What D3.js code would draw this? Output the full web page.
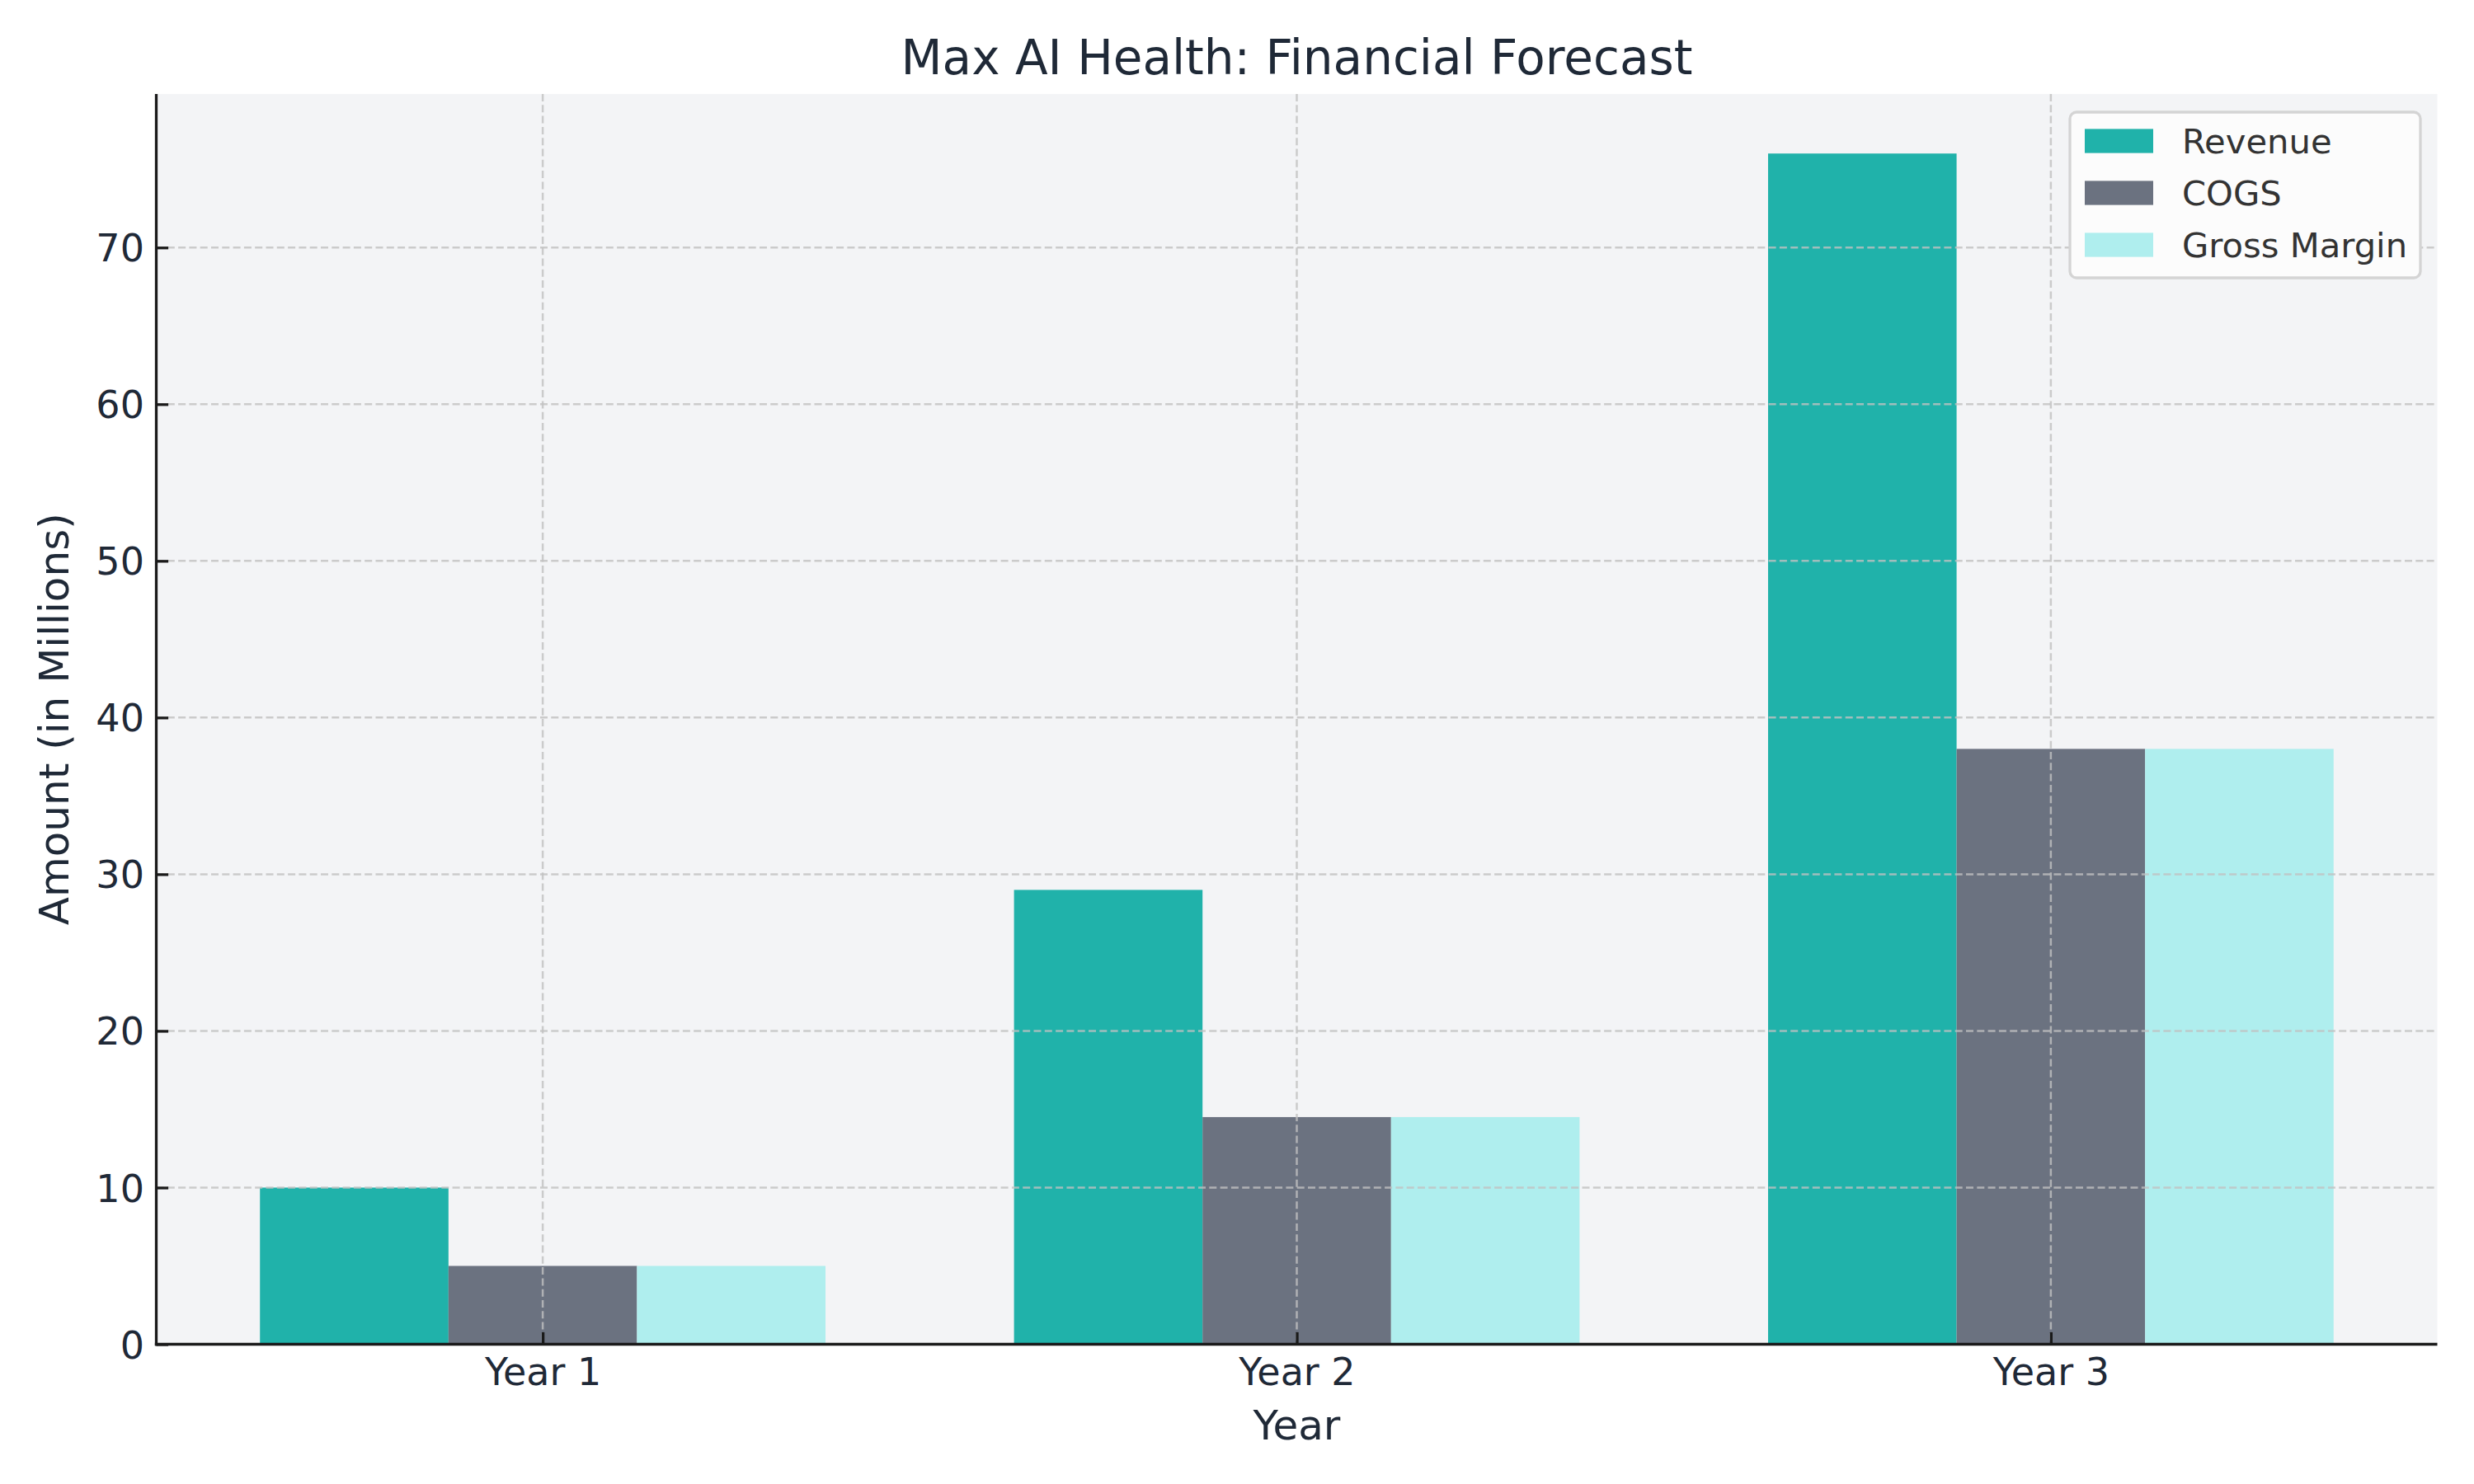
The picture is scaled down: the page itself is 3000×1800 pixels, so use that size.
<!DOCTYPE html>
<html>
<head>
<meta charset="utf-8">
<script src="https://cdn.jsdelivr.net/npm/d3@7"></script>
<style>
  html, body { margin: 0; padding: 0; background: #ffffff; }
  svg { display: block; }
  text { font-family: "DejaVu Sans", sans-serif; }
</style>
</head>
<body>
<svg id="chart" width="3000" height="1800"></svg>
<script>
// ---- data ----
const categories = ["Year 1", "Year 2", "Year 3"];
const seriesNames = ["Revenue", "COGS", "Gross Margin"];
const revenue = [10, 29, 76];
const cogs = [5, 14.5, 38];
const grossMargin = [5, 14.5, 38];
const yTicks = [0, 10, 20, 30, 40, 50, 60, 70];
const titleText = "Max AI Health: Financial Forecast";
const xLabel = "Year";
const yLabel = "Amount (in Millions)";

const seriesValues = [revenue, cogs, grossMargin];
const colors = ["#20B2AA", "#6B7280", "#AFEEEE"];

// ---- layout ----
const W = 3000, H = 1800;
const plot = { left: 189.5, right: 2955.5, top: 114, bottom: 1630.5 };
const textColor = "#1F2937";
const tickFont = 46, labelFont = 50, titleFont = 58, legendFont = 41.7;

const svg = d3.select("#chart");

const x = d3.scaleLinear()
  .domain([-0.375 - 0.05 * 2.75, 2.375 + 0.05 * 2.75])
  .range([plot.left, plot.right]);
const sub = d3.scaleBand().domain(seriesNames).range([-0.375, 0.375]);
const yMax = d3.max(seriesValues.flat()) * 1.05;
const y = d3.scaleLinear().domain([0, yMax]).range([plot.bottom, plot.top]);

// background
svg.append("rect")
  .attr("x", plot.left).attr("y", plot.top)
  .attr("width", plot.right - plot.left).attr("height", plot.bottom - plot.top)
  .attr("fill", "#F3F4F6");

// bars
seriesNames.forEach((name, si) => {
  svg.append("g").selectAll("rect")
    .data(seriesValues[si])
    .join("rect")
    .attr("x", (d, i) => x(i + sub(name)))
    .attr("width", (d, i) => x(i + sub(name) + sub.bandwidth()) - x(i + sub(name)))
    .attr("y", d => y(d))
    .attr("height", d => y(0) - y(d))
    .attr("fill", colors[si]);
});

// grid (drawn over bars)
const grid = svg.append("g")
  .attr("stroke", "#c0c0c0").attr("stroke-opacity", 0.8)
  .attr("stroke-width", 2.5).attr("stroke-dasharray", "9,4.3");
grid.selectAll("line.h").data(yTicks.filter(t => t > 0)).join("line")
  .attr("class", "h")
  .attr("x1", plot.left).attr("x2", plot.right)
  .attr("y1", d => y(d)).attr("y2", d => y(d));
grid.selectAll("line.v").data(categories).join("line")
  .attr("class", "v")
  .attr("x1", (d, i) => x(i)).attr("x2", (d, i) => x(i))
  .attr("y1", plot.top).attr("y2", plot.bottom);

// y axis
const yAxis = d3.axisLeft(y).tickValues(yTicks).tickSizeInner(-14.6).tickSizeOuter(0).tickPadding(14.6);
const yG = svg.append("g").attr("transform", `translate(${plot.left},0)`).call(yAxis);
yG.select(".domain").remove();
yG.selectAll(".tick line").attr("stroke", "#1a1a1a").attr("stroke-width", 3.3);
yG.selectAll(".tick text")
  .attr("fill", textColor).attr("font-size", tickFont)
  .attr("font-family", "DejaVu Sans").attr("dy", "0.36em");

// x axis
const xAxis = d3.axisBottom(x).tickValues(d3.range(categories.length))
  .tickFormat(i => categories[i]).tickSizeInner(-14.6).tickSizeOuter(0).tickPadding(14.6);
const xG = svg.append("g").attr("transform", `translate(0,${plot.bottom})`).call(xAxis);
xG.select(".domain").remove();
xG.selectAll(".tick line").attr("stroke", "#1a1a1a").attr("stroke-width", 3.3);
xG.selectAll(".tick text")
  .attr("fill", textColor).attr("font-size", tickFont)
  .attr("font-family", "DejaVu Sans").attr("dy", null)
  .attr("y", 1680 - plot.bottom);

// spines
svg.append("line")
  .attr("x1", plot.left).attr("x2", plot.left)
  .attr("y1", plot.top).attr("y2", plot.bottom + 1.65)
  .attr("stroke", "#1a1a1a").attr("stroke-width", 3.3);
svg.append("line")
  .attr("x1", plot.left - 1.65).attr("x2", plot.right)
  .attr("y1", plot.bottom).attr("y2", plot.bottom)
  .attr("stroke", "#1a1a1a").attr("stroke-width", 3.3);

// title
svg.append("text")
  .attr("x", (plot.left + plot.right) / 2).attr("y", 90)
  .attr("text-anchor", "middle").attr("font-size", titleFont)
  .attr("fill", textColor).text(titleText);

// axis labels
svg.append("text")
  .attr("x", (plot.left + plot.right) / 2).attr("y", 1746)
  .attr("text-anchor", "middle").attr("font-size", labelFont)
  .attr("fill", textColor).text(xLabel);
svg.append("text")
  .attr("transform", `translate(83,${(plot.top + plot.bottom) / 2}) rotate(-90)`)
  .attr("text-anchor", "middle").attr("font-size", labelFont)
  .attr("fill", textColor).text(yLabel);

// legend
const lg = svg.append("g");
lg.append("rect")
  .attr("x", 2510).attr("y", 136).attr("width", 425).attr("height", 201)
  .attr("rx", 8).attr("ry", 8)
  .attr("fill", "#fcfcfc").attr("stroke", "#d4d4d4").attr("stroke-width", 3.3);
const rowY = d3.scalePoint().domain(seriesNames).range([171, 297]);
seriesNames.forEach((name, si) => {
  lg.append("rect")
    .attr("x", 2528).attr("y", rowY(name) - 14.6)
    .attr("width", 83).attr("height", 29.2)
    .attr("fill", colors[si]);
  lg.append("text")
    .attr("x", 2646).attr("y", rowY(name)).attr("dy", "0.36em")
    .attr("font-size", legendFont).attr("fill", "#333333").text(name);
});
</script>
</body>
</html>
